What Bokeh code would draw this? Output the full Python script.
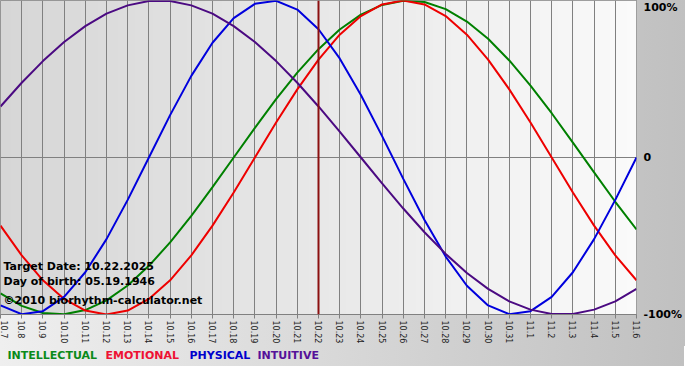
import math
import numpy as np
from bokeh.plotting import figure
from bokeh.layouts import column
from bokeh.models import FixedTicker, Label, Span, Range1d, LinearAxis
from bokeh.core.properties import value
from bokeh.embed import file_html
from bokeh.resources import INLINE

# ---- data ----
dates = ["10.7", "10.8", "10.9", "10.10", "10.11", "10.12", "10.13", "10.14",
         "10.15", "10.16", "10.17", "10.18", "10.19", "10.20", "10.21", "10.22",
         "10.23", "10.24", "10.25", "10.26", "10.27", "10.28", "10.29", "10.30",
         "10.31", "11.1", "11.2", "11.3", "11.4", "11.5", "11.6"]
target_index = 15  # 10.22

physical = [-94.2, -99.8, -97.9, -88.8, -73.1, -52.0, -27.0, 0.0, 27.0, 52.0,
            73.1, 88.8, 97.9, 99.8, 94.2, 81.7, 63.1, 39.8, 13.6, -13.6,
            -39.8, -63.1, -81.7, -94.2, -99.8, -97.9, -88.8, -73.1, -52.0, -27.0, 0.0]
emotional = [-43.4, -62.3, -78.2, -90.1, -97.5, -100.0, -97.5, -90.1, -78.2, -62.3,
             -43.4, -22.3, 0.0, 22.3, 43.4, 62.3, 78.2, 90.1, 97.5, 100.0,
             97.5, 90.1, 78.2, 62.3, 43.4, 22.3, 0.0, -22.3, -43.4, -62.3, -78.2]
intellectual = [-86.6, -94.5, -99.0, -99.9, -97.2, -91.0, -81.5, -69.0, -54.1, -37.2,
                -18.9, 0.0, 18.9, 37.2, 54.1, 69.0, 81.5, 91.0, 97.2, 99.9,
                99.0, 94.5, 86.6, 75.6, 61.8, 45.8, 28.2, 9.5, -9.5, -28.2, -45.8]
intuitive = [32.5, 47.6, 61.4, 73.6, 83.7, 91.6, 96.9, 99.7, 99.7, 96.9,
             91.6, 83.7, 73.6, 61.4, 47.6, 32.5, 16.5, 0.0, -16.5, -32.5,
             -47.6, -61.4, -73.6, -83.7, -91.6, -96.9, -99.7, -99.7, -96.9, -91.6, -83.7]

series_names = ["INTELLECTUAL", "EMOTIONAL", "PHYSICAL", "INTUITIVE"]
series_values = [intellectual, emotional, physical, intuitive]
line_colors = ["#008000", "#ee0000", "#0000dd", "#4b0a82"]
legend_colors = ["#0a8a1a", "#ee1133", "#0000cc", "#551199"]

y_tick_labels = ["100%", "0", "-100%"]

info_lines = ["Target Date: 10.22.2025", "Day of birth: 05.19.1946",
              "\u00a92010 biorhythm-calculator.net"]

# ---- layout / style ----
FRAME_W, FRAME_H = 636, 314
RIGHT_W, BOTTOM_H, LEGEND_H = 48, 30, 20
BG_CSS = {"background": "linear-gradient(to right, #efefef, #c0c0c0)"}

x = list(range(len(dates)))
x_min, x_max = x[0], x[-1]
y_lo, y_hi = -100, 100

p = figure(frame_width=FRAME_W, frame_height=FRAME_H,
           output_backend="svg", toolbar_location=None,
           x_range=Range1d(x_min, x_max), y_range=Range1d(y_lo, y_hi),
           y_axis_location=None,
           min_border_left=0, min_border_top=0, min_border_right=RIGHT_W,
           min_border_bottom=BOTTOM_H)

p.border_fill_color = None
p.background_fill_color = None
p.styles = BG_CSS
p.outline_line_color = "#808080"

# plot-area horizontal gradient (decoration)
n = 256
c0, c1 = 0xd6, 0xfa
img = np.zeros((1, n), dtype=np.uint32)
view = img.view(dtype=np.uint8).reshape((1, n, 4))
for i in range(n):
    v = int(round(c0 + (c1 - c0) * i / (n - 1)))
    view[0, i] = [v, v, v, 255]
bg = p.image_rgba(image=[img], x=x_min, y=y_lo, dw=x_max - x_min, dh=y_hi - y_lo)
bg.level = "image"

# grid
p.xgrid.ticker = FixedTicker(ticks=x)
p.xgrid.grid_line_color = "#808080"
p.xgrid.grid_line_width = 1
p.ygrid.ticker = FixedTicker(ticks=[0])
p.ygrid.grid_line_color = "#808080"
p.ygrid.grid_line_width = 1

# x axis
ax = p.xaxis[0]
ax.ticker = FixedTicker(ticks=x)
ax.major_label_overrides = {i: d for i, d in zip(x, dates)}
ax.major_label_orientation = -math.pi / 2
ax.major_label_text_font = "DejaVu Sans"
ax.major_label_text_font_size = "8px"
ax.major_label_text_color = "#222222"
ax.major_label_standoff = 2
ax.axis_line_color = "#808080"
ax.major_tick_line_color = "#808080"
ax.major_tick_in = 0
ax.major_tick_out = 4
ax.minor_tick_line_color = None

# right axis with percentage labels ("100%" sits just below the top edge)
top_label_pos = y_hi - 7 * (y_hi - y_lo) / FRAME_H
ry = LinearAxis(ticker=FixedTicker(ticks=[top_label_pos, 0, y_lo]),
                major_label_overrides={top_label_pos: y_tick_labels[0],
                                       0: y_tick_labels[1],
                                       y_lo: y_tick_labels[2]})
ry.axis_line_color = None
ry.major_tick_line_color = None
ry.minor_tick_line_color = None
ry.major_tick_in = 0
ry.major_tick_out = 0
ry.minor_tick_in = 0
ry.minor_tick_out = 0
ry.major_label_standoff = 7
ry.major_label_text_font = "DejaVu Sans"
ry.major_label_text_font_style = "bold"
ry.major_label_text_font_size = "11px"
ry.major_label_text_color = "#000000"
p.add_layout(ry, "right")

# target date line
p.add_layout(Span(location=x[target_index], dimension="height",
                  line_color="#8b1010", line_width=2))

# curves
for vals, col in zip(series_values, line_colors):
    p.line(x, vals, line_color=col, line_width=2)

# info text
for txt, off in zip(info_lines, [48, 33, 14]):
    p.add_layout(Label(x=x_min, y=y_lo, text=txt, x_offset=3, y_offset=off,
                       text_font="DejaVu Sans", text_font_style="bold",
                       text_font_size="11px", text_color="#000000",
                       text_baseline="middle", text_align="left"))

# legend strip (separate small figure below, same frame width / borders)
leg = figure(frame_width=FRAME_W, frame_height=LEGEND_H, output_backend="svg",
             toolbar_location=None, x_range=Range1d(0, FRAME_W),
             y_range=Range1d(0, LEGEND_H), x_axis_location=None,
             y_axis_location=None, min_border_left=0, min_border_top=0,
             min_border_bottom=0, min_border_right=RIGHT_W)
leg.border_fill_color = None
leg.background_fill_color = None
leg.outline_line_color = None
leg.grid.visible = False
leg.styles = BG_CSS
legend_x = [7, 105, 189, 257]
leg.text(x=legend_x, y=[LEGEND_H / 2 + 1] * 4, text=series_names,
         text_color=legend_colors, text_font=value("DejaVu Sans"),
         text_font_style="bold", text_font_size="11px",
         text_baseline="middle", text_align="left")

layout = column(p, leg, spacing=0)
open("out.html", "w").write(file_html(layout, INLINE))
